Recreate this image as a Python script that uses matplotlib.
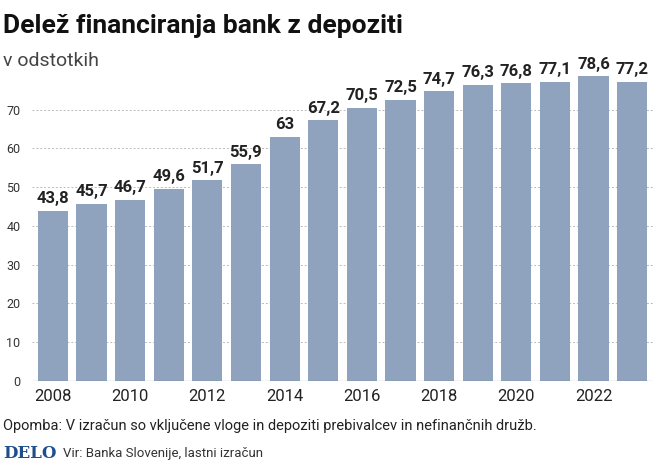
import matplotlib
matplotlib.use("Agg")
import matplotlib.pyplot as plt

years = list(range(2008, 2024))
values = [43.8, 45.7, 46.7, 49.6, 51.7, 55.9, 63, 67.2, 70.5, 72.5, 74.7, 76.3, 76.8, 77.1, 78.6, 77.2]
yticks = [0, 10, 20, 30, 40, 50, 60, 70]
xticks = [2008, 2010, 2012, 2014, 2016, 2018, 2020, 2022]

fig = plt.figure(figsize=(6.6, 4.72), dpi=100)
ax = fig.add_axes([0.048, 0.193, 0.942, 0.657])
ax.bar(years, values, width=0.78, color="#8fa3be", zorder=2)
for x, v in zip(years, values):
    ax.text(x, v + 1.2, f"{v:g}".replace(".", ","), ha="center", va="bottom",
            fontsize=12, fontweight="bold", family="Roboto", color="#222222")
ax.set_ylim(0, 80)
ax.set_xlim(2007.45, 2023.55)
ax.set_yticks(yticks)
ax.set_yticklabels([str(t) for t in yticks], fontsize=9, color="#333333", family="Roboto")
ax.set_xticks(xticks)
ax.set_xticklabels([str(t) for t in xticks], fontsize=12, color="#222222", family="Roboto")
ax.tick_params(axis="both", length=0)
ax.tick_params(axis="y", pad=8)
ax.tick_params(axis="x", pad=6)
ax.grid(axis="y", linestyle=(0, (2, 2)), color="#bbbbbb", linewidth=0.7, zorder=0)
for s in ax.spines.values():
    s.set_visible(False)
ax.axhline(0, color="#444444", linewidth=0.8, zorder=3)

fig.text(0.005, 0.945, "Delež financiranja bank z depoziti", fontsize=19, fontweight="bold",
         family="Roboto", color="#111111", va="center")
fig.text(0.005, 0.87, "v odstotkih", fontsize=14, family="Roboto", color="#444444", va="center")
fig.text(0.005, 0.098, "Opomba: V izračun so vključene vloge in depoziti prebivalcev in nefinančnih družb.",
         fontsize=10.5, family="Roboto", color="#222222", va="center")
fig.text(0.005, 0.04, "DELO", fontsize=12, fontweight="bold", family="DejaVu Serif",
         color="#1f4e8c", va="center")
fig.text(0.095, 0.04, "Vir: Banka Slovenije, lastni izračun", fontsize=9.5, family="Roboto",
         color="#333333", va="center")
fig.savefig("out.png", dpi=100, facecolor="white")
